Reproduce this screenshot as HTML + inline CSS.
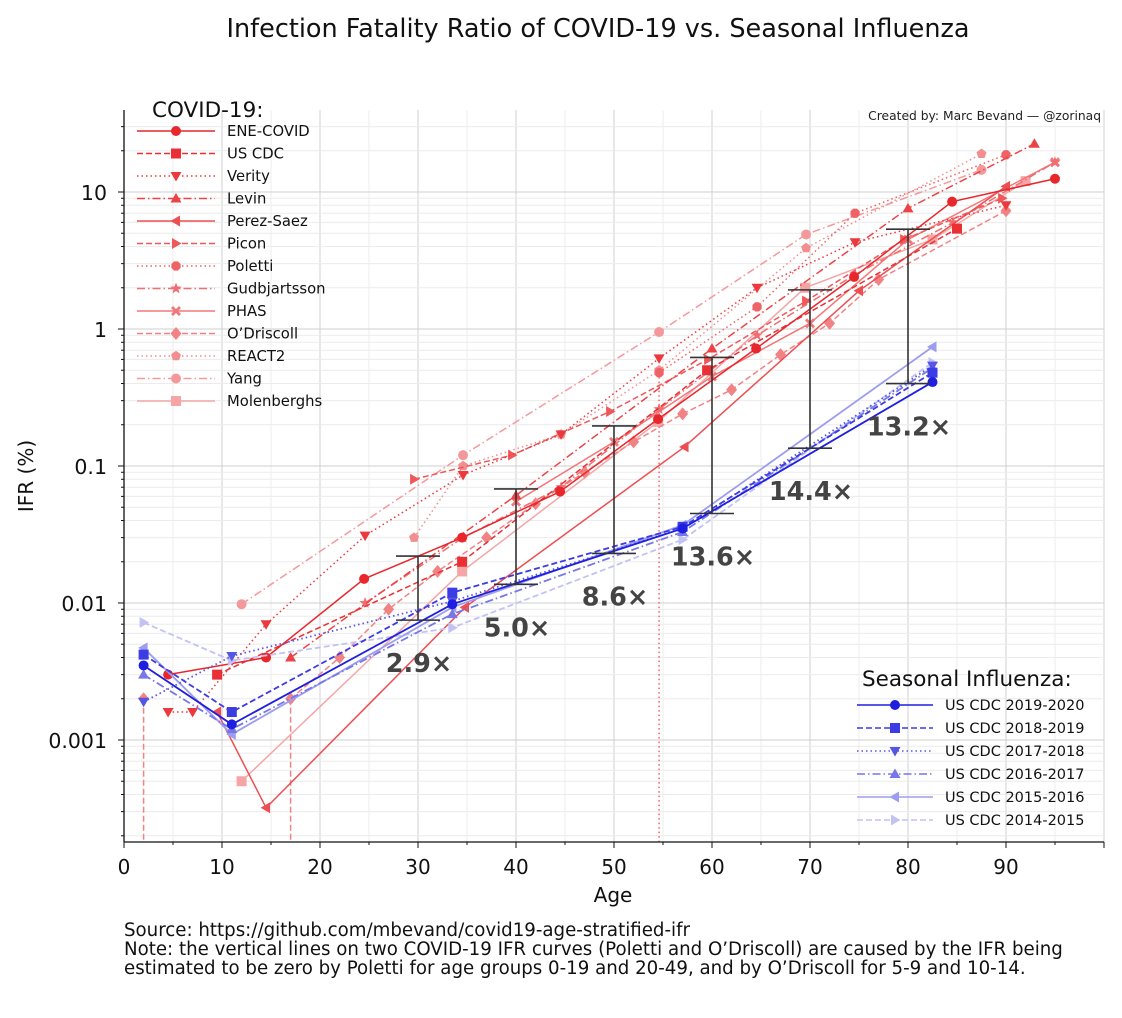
<!DOCTYPE html>
<html><head><meta charset="utf-8"><style>
body{margin:0;background:#fff;}
svg{display:block;font-family:"DejaVu Sans","Liberation Sans",sans-serif;}
</style></head><body>
<svg id="chart" width="1122" height="1018" viewBox="0 0 1122 1018">
<text x="598" y="37" text-anchor="middle" font-size="25.5" fill="#111">Infection Fatality Ratio of COVID-19 vs. Seasonal Influenza</text>
<g id="grid"></g>
<g id="series"></g>
<g id="axes"></g>
<g id="legend"></g>
<text x="1101" y="120" text-anchor="end" font-size="12.3" fill="#222">Created by: Marc Bevand — @zorinaq</text>
<text x="613" y="902" text-anchor="middle" font-size="20" fill="#111">Age</text>
<text transform="translate(33,476) rotate(-90)" text-anchor="middle" font-size="20" fill="#111">IFR (%)</text>
<g font-size="18.2" fill="#111">
<text x="124" y="936">Source: https://github.com/mbevand/covid19-age-stratified-ifr</text>
<text x="124" y="955">Note: the vertical lines on two COVID-19 IFR curves (Poletti and O’Driscoll) are caused by the IFR being</text>
<text x="124" y="974">estimated to be zero by Poletti for age groups 0-19 and 20-49, and by O’Driscoll for 5-9 and 10-14.</text>
</g>
</svg>
<script>
// ---- data ----
const xTicks = [0,10,20,30,40,50,60,70,80,90];
const yTicks = [0.001,0.01,0.1,1,10];
const yTickLabels = ["0.001","0.01","0.1","1","10"];

const eneAges=[4.5,14.5,24.5,34.5,44.5,54.5,64.5,74.5,84.5,95];
const eneVals=[0.003,0.004,0.015,0.03,0.065,0.22,0.72,2.4,8.5,12.5];
const cdcAges=[9.5,34.5,59.5,85];
const cdcVals=[0.003,0.02,0.5,5.4];
const verityAges=[4.5,7,14.5,24.6,34.6,44.6,54.6,64.6,74.6,90];
const verityVals=[0.0016,0.0016,0.007,0.031,0.086,0.17,0.61,2.0,4.3,8];
const levinAges=[17,40,60,80,92.9];
const levinVals=[0.004,0.061,0.72,7.6,22.5];
const perezAges=[9.5,14.5,34.8,57.2,75,90];
const perezVals=[0.0016,0.00032,0.0093,0.138,1.9,11];
const piconAges=[29.6,39.6,49.6,59.6,69.6,79.6,89.6];
const piconVals=[0.08,0.12,0.25,0.6,1.6,4.5,9];
const polettiAges=[54.6,64.6,74.6,90];
const polettiVals=[0.48,1.45,7,18.7];
const gudAges=[24.6,34.6,44.6,54.6,64.6,74.6,84.6,95];
const gudVals=[0.01,0.03,0.07,0.26,0.9,2.5,6,16.5];
const phasAges=[40,50,60,70,80,95];
const phasVals=[0.055,0.15,0.45,1.1,4.5,16.5];
const odriAges=[2,17,22,27,32,37,42,47,52,57,62,67,72,77,90];
const odriVals=[0.002,0.002,0.004,0.009,0.017,0.03,0.053,0.09,0.15,0.24,0.36,0.65,1.1,2.3,7.3];
const reactAges=[29.6,34.6,44.6,54.6,69.6,87.5];
const reactVals=[0.03,0.1,0.17,0.5,3.9,19];
const yangAges=[12,34.6,54.6,69.6,87.5];
const yangVals=[0.0098,0.12,0.95,4.9,14.5];
const molAges=[12,34.5,54.5,69.5,82.5,92];
const molVals=[0.0005,0.017,0.21,2,4.5,12];

const fluAges=[2,11,33.5,57,82.5];
const flu1920=[0.0035,0.0013,0.0098,0.035,0.41];
const flu1819=[0.0042,0.0016,0.0119,0.036,0.48];
const flu1718=[0.0019,0.0041,0.0103,0.035,0.54];
const flu1617=[0.003,0.0012,0.0083,0.033,0.52];
const flu1516=[0.0047,0.0011,0.0093,0.037,0.74];
const flu1415=[0.0072,0.0038,0.0066,0.029,0.57];

const barAges=[30,40,50,60,70,80];
const barTop=[0.022,0.068,0.196,0.62,1.93,5.35];
const barBottom=[0.0075,0.0137,0.023,0.045,0.135,0.40];
const barLabels=["2.9×","5.0×","8.6×","13.6×","14.4×","13.2×"];

// ---- scales ----
const X0=124,X1=1104,YT=110,YB=842;
function xs(a){return 124+a*9.8;}
function ys(v){return 329-137*Math.log10(v);}
const NS="http://www.w3.org/2000/svg";
function mk(tag,attrs,parent){const e=document.createElementNS(NS,tag);for(const k in attrs)e.setAttribute(k,attrs[k]);parent.appendChild(e);return e;}

const grid=document.getElementById('grid');
for(let a=0;a<=100;a+=5){
  const l=mk('line',{x1:xs(a),x2:xs(a),y1:YT,y2:YB,stroke:a%10?'#eeeeee':'#d0d0d0','stroke-width':1},grid);
  
  
}
for(let k=-4;k<=1;k++){
  for(let m=1;m<=9;m++){
    const v=m*Math.pow(10,k);const y=ys(v);
    if(y<YT||y>YB)continue;
    const l=mk('line',{x1:X0,x2:X1,y1:y,y2:y,stroke:m==1?'#cfcfcf':'#ececec','stroke-width':1},grid);
    
    
  }
}

const dashes={solid:'',dashed:'6,3',dotted:'1.5,3',dashdot:'8,3,1.5,3'};
function marker(g,shape,x,y,c,s){
  s=s||5;let e;
  const P=(pts)=>mk('polygon',{points:pts.map(p=>(x+p[0]*s)+','+(y+p[1]*s)).join(' '),fill:c},g);
  switch(shape){
    case 'o':e=mk('circle',{cx:x,cy:y,r:s,fill:c},g);break;
    case 's':e=mk('rect',{x:x-s,y:y-s,width:2*s,height:2*s,fill:c},g);break;
    case 'v':e=P([[-1.1,-0.8],[1.1,-0.8],[0,1.1]]);break;
    case '^':e=P([[-1.1,0.8],[1.1,0.8],[0,-1.1]]);break;
    case '<':e=P([[0.8,-1.1],[0.8,1.1],[-1.1,0]]);break;
    case '>':e=P([[-0.8,-1.1],[-0.8,1.1],[1.1,0]]);break;
    case 'p':{const pts=[];for(let i=0;i<5;i++){const t=-Math.PI/2+i*2*Math.PI/5;pts.push([Math.cos(t)*1.05,Math.sin(t)*1.05]);}e=P(pts);break;}
    case '8':{const pts=[];for(let i=0;i<8;i++){const t=Math.PI/8+i*Math.PI/4;pts.push([Math.cos(t),Math.sin(t)]);}e=P(pts);break;}
    case '*':{const pts=[];for(let i=0;i<10;i++){const t=-Math.PI/2+i*Math.PI/5;const r=i%2?0.5:1.2;pts.push([Math.cos(t)*r,Math.sin(t)*r]);}e=P(pts);break;}
    case 'X':e=P([[-1,-0.6],[-0.6,-1],[0,-0.4],[0.6,-1],[1,-0.6],[0.4,0],[1,0.6],[0.6,1],[0,0.4],[-0.6,1],[-1,0.6],[-0.4,0]]);break;
    case 'D':e=P([[0,-1.3],[1.1,0],[0,1.3],[-1.1,0]]);break;
  }
  return e;
}

const series=[
 {n:'ENE-COVID',a:eneAges,v:eneVals,c:'#e8272c',d:'solid',m:'o'},
 {n:'US CDC',a:cdcAges,v:cdcVals,c:'#ea3035',d:'dashed',m:'s'},
 {n:'Verity',a:verityAges,v:verityVals,c:'#eb393d',d:'dotted',m:'v'},
 {n:'Levin',a:levinAges,v:levinVals,c:'#ec4347',d:'dashdot',m:'^'},
 {n:'Perez-Saez',a:perezAges,v:perezVals,c:'#ed4e51',d:'solid',m:'<'},
 {n:'Picon',a:piconAges,v:piconVals,c:'#ee585b',d:'dashed',m:'>'},
 {n:'Poletti',a:polettiAges,v:polettiVals,c:'#ef6366',d:'dotted',m:'8'},
 {n:'Gudbjartsson',a:gudAges,v:gudVals,c:'#f06d70',d:'dashdot',m:'*'},
 {n:'PHAS',a:phasAges,v:phasVals,c:'#f1787a',d:'solid',m:'X'},
 {n:'O’Driscoll',a:odriAges,v:odriVals,c:'#f28385',d:'dashed',m:'D',skip:[0]},
 {n:'REACT2',a:reactAges,v:reactVals,c:'#f38e90',d:'dotted',m:'p'},
 {n:'Yang',a:yangAges,v:yangVals,c:'#f4999b',d:'dashdot',m:'o'},
 {n:'Molenberghs',a:molAges,v:molVals,c:'#f5a5a6',d:'solid',m:'s'}
];
const flu=[
 {n:'US CDC 2019-2020',v:flu1920,c:'#1f1fdf',d:'solid',m:'o'},
 {n:'US CDC 2018-2019',v:flu1819,c:'#3c3ce4',d:'dashed',m:'s'},
 {n:'US CDC 2017-2018',v:flu1718,c:'#5656e6',d:'dotted',m:'v'},
 {n:'US CDC 2016-2017',v:flu1617,c:'#7777e8',d:'dashdot',m:'^'},
 {n:'US CDC 2015-2016',v:flu1516,c:'#9d9def',d:'solid',m:'<'},
 {n:'US CDC 2014-2015',v:flu1415,c:'#c2c2f5',d:'dashed',m:'>'}
];

const sg=document.getElementById('series');
function slug(s){return s.toLowerCase().replace(/[^a-z0-9]+/g,'-').replace(/^-|-$/g,'');}
function drawSeries(s,ages,w){
  const g=mk('g',{},sg);
  
  
  const skip=s.skip||[];
  let seg=[];
  const flush=()=>{
    if(seg.length>1){
      const pl=mk('polyline',{points:seg.join(' '),fill:'none',stroke:s.c,'stroke-width':w,'stroke-dasharray':dashes[s.d]},g);
      
      
    }
    seg=[];
  };
  ages.forEach((a,i)=>{
    seg.push(xs(a)+','+ys(s.v[i]));
    if(skip.indexOf(i)>=0)flush();
  });
  flush();
  ages.forEach((a,i)=>{
    const e=marker(g,s.m,xs(a),ys(s.v[i]),s.c,5);
    
    
  });
  return g;
}
function drop(age,val,c,d){
  const l=mk('line',{x1:xs(age),x2:xs(age),y1:ys(val),y2:YB,stroke:c,'stroke-width':1.5,'stroke-dasharray':dashes[d]},sg);
  
  
}
drop(odriAges[0],odriVals[0],'#f28385','dashed');
drop(odriAges[1],odriVals[1],'#f28385','dashed');
drop(polettiAges[0],polettiVals[0],'#ef6366','dotted');
for(let i=series.length-1;i>=0;i--)drawSeries(series[i],series[i].a,1.5);
for(let i=flu.length-1;i>=0;i--)drawSeries(flu[i],fluAges,1.8);

barAges.forEach((a,i)=>{
  const g=mk('g',{stroke:'#333','stroke-width':1.6},sg);
  
  
  const x=xs(a),yt=ys(barTop[i]),yb=ys(barBottom[i]);
  mk('line',{x1:x,x2:x,y1:yt,y2:yb},g);
  mk('line',{x1:x-22,x2:x+22,y1:yt,y2:yt},g);
  mk('line',{x1:x-22,x2:x+22,y1:yb,y2:yb},g);
  const t=mk('text',{x:x+1,y:yb+52,'text-anchor':'middle','font-size':25.5,'font-weight':'bold',fill:'#444',stroke:'none'},sg);
  t.textContent=barLabels[i];
  
  
});

// axes
const ax=document.getElementById('axes');
mk('line',{x1:X0,x2:X0,y1:YT,y2:YB,stroke:'#111','stroke-width':1.3},ax);
mk('line',{x1:X0,x2:X1,y1:YB,y2:YB,stroke:'#111','stroke-width':1.3},ax);
for(let a=0;a<=100;a+=5){
  mk('line',{x1:xs(a),x2:xs(a),y1:YB,y2:YB+(a%10?3:6),stroke:'#111'},ax);
}
xTicks.forEach(a=>{
  const t=mk('text',{x:xs(a),y:YB+32,'text-anchor':'middle','font-size':20,fill:'#111'},ax);
  t.textContent=a;
  
  
});
for(let k=-4;k<=1;k++)for(let m=1;m<=9;m++){
  const y=ys(m*Math.pow(10,k));if(y<YT||y>YB)continue;
  mk('line',{x1:X0,x2:X0-(m==1?6:3),y1:y,y2:y,stroke:'#111'},ax);
}
yTicks.forEach((v,i)=>{
  const t=mk('text',{x:X0-17,y:ys(v)+8,'text-anchor':'end','font-size':20.5,fill:'#111'},ax);
  t.textContent=yTickLabels[i];
  
  
});

// legends
const lg=document.getElementById('legend');
function legend(title,tx,ty,list,x0,x1,tX,y0,dy,fs){
  const g=mk('g',{},lg);
  
  
  const tt=mk('text',{x:tx,y:ty,'font-size':21.5,fill:'#111'},g);tt.textContent=title;
  list.forEach((s,i)=>{
    const y=y0+i*dy;
    const e=mk('g',{},g);
    
    
    mk('line',{x1:x0,x2:x1,y1:y,y2:y,stroke:s.c,'stroke-width':1.6,'stroke-dasharray':dashes[s.d]},e);
    marker(e,s.m,(x0+x1)/2,y,s.c,5);
    const t=mk('text',{x:tX,y:y+5,'font-size':fs,fill:'#111'},e);t.textContent=s.n;
  });
}
legend('COVID-19:',152,117,series,137,215,227,131,22.5,14.8);
legend('Seasonal Influenza:',862,686,flu,857,933,945,705,23,14.5);
</script>
</body></html>
